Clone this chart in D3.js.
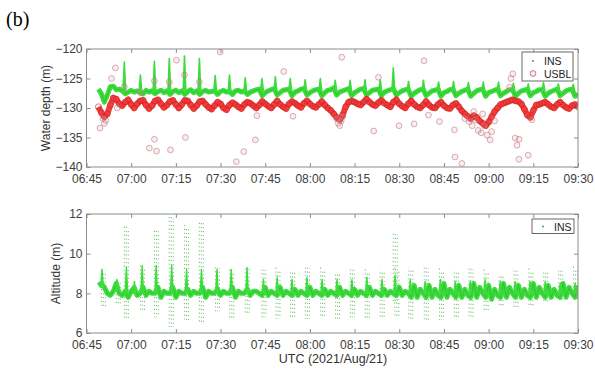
<!DOCTYPE html>
<html>
<head>
<meta charset="utf-8">
<script src="https://cdn.jsdelivr.net/npm/d3@7"></script>
<style>
  body { margin: 0; background: #fff; }
  svg { display: block; font-family: "Liberation Sans", Arial, sans-serif; }
</style>
</head>
<body>
<svg id="chart" width="595" height="369"></svg>
<script>
// time is in minutes after 06:45 UTC, base series sampled once a minute from baseStart
const baseStart = 4;

const insDepthBase = [
  -126.8, -127.6, -129.0, -127.8, -126.4,
  -126.3, -126.9, -126.8, -127.1, -127.6,
  -127.3, -127.0, -127.3, -127.1, -127.4,
  -127.6, -127.0, -127.3, -127.1, -127.6,
  -127.2, -127.0, -127.4, -127.1, -127.7,
  -127.2, -127.0, -127.4, -127.1, -127.7,
  -127.2, -126.9, -127.4, -127.1, -127.7,
  -127.2, -127.0, -127.3, -127.2, -127.1,
  -127.7, -127.2, -127.0, -127.3, -127.2,
  -127.7, -127.1, -127.0, -127.3, -127.1,
  -127.7, -127.3, -127.1, -126.9, -126.8,
  -127.9, -127.4, -127.1, -126.9, -126.7,
  -127.8, -127.4, -127.0, -126.9, -126.8,
  -127.9, -127.3, -127.1, -126.8, -126.7,
  -127.8, -127.4, -127.1, -126.9, -126.8,
  -127.9, -127.4, -127.0, -126.9, -126.6,
  -127.8, -127.3, -127.1, -126.9, -126.7,
  -127.9, -127.4, -127.1, -126.8, -126.7,
  -127.8, -127.4, -127.0, -126.9, -126.8,
  -127.9, -127.3, -127.1, -126.9, -126.7,
  -127.8, -127.4, -127.1, -126.9, -126.8,
  -128.0, -127.5, -127.2, -126.9, -126.8,
  -127.9, -127.5, -127.1, -127.0, -126.8,
  -128.0, -127.4, -127.2, -126.9, -126.8,
  -127.9, -127.5, -127.2, -127.0, -126.8,
  -128.0, -127.5, -127.1, -126.9, -126.8,
  -128.0, -127.4, -127.2, -127.0, -126.8,
  -127.9, -127.5, -127.2, -126.9, -126.9,
  -128.0, -127.5, -127.1, -127.0, -126.8,
  -127.9, -127.4, -127.2, -126.9, -126.9,
  -128.0, -127.5, -127.2, -127.0, -126.8,
  -127.9, -127.5, -127.1, -126.9, -126.8,
  -128.0, -127.6
];

// [minute, from, peak]
const insDepthSpikes = [
  [12.7, -127.2, -122.2], [18.1, -127.2, -124.4], [22.8, -127.2, -122.1], [27.8, -127.2, -121.6],
  [32.9, -127.2, -121.2], [37.9, -127.2, -121.6], [43.2, -127.2, -124.5], [48.0, -127.2, -124.4],
  [53.3, -127.2, -124.9], [58.9, -127.0, -125.0], [63.4, -127.0, -124.7], [68.4, -127.0, -125.0],
  [73.4, -127.0, -125.2], [78.5, -127.0, -125.0], [83.5, -127.0, -125.3], [88.5, -127.0, -125.3],
  [93.5, -127.0, -125.2], [98.6, -127.0, -125.2], [103.0, -127.0, -123.2], [108.1, -127.0, -125.5],
  [113.1, -127.0, -125.3], [118.2, -127.0, -125.6], [123.2, -127.0, -125.5], [128.2, -127.0, -125.7],
  [133.2, -127.0, -125.6], [138.3, -127.0, -125.6], [143.3, -127.0, -125.8], [148.3, -127.0, -125.9],
  [153.4, -127.0, -125.7], [158.4, -127.0, -125.9], [163.4, -127.0, -126.0]
];

const usblBase = [
  -129.8, -130.8, -131.5, -131.0, -129.5, -128.3, -128.5, -129.3, -129.6, -129.0,
  -128.6, -129.4, -130.0, -129.3, -128.8,
  -128.7, -129.5, -130.1, -129.6, -128.8,
  -128.6, -129.3, -129.9, -129.5, -128.9,
  -128.7, -129.4, -130.0, -129.4, -128.7,
  -128.8, -129.5, -130.1, -129.6, -128.9,
  -128.8, -129.4, -129.9, -130.2, -129.6,
  -129.0, -129.3, -130.0, -130.3, -129.5,
  -129.1, -129.4, -129.8, -130.1, -129.4,
  -129.0, -129.2, -129.6, -130.0, -129.5,
  -128.9, -129.3, -129.7, -130.0, -129.4,
  -128.8, -129.4, -129.8, -130.1, -129.3,
  -128.9, -129.2, -129.6, -129.9, -129.2,
  -128.8, -129.3, -129.7, -129.9, -129.4,
  -128.9, -129.5, -130.0, -130.4, -131.0,
  -131.6, -132.0, -131.2, -129.8, -129.0,
  -128.8, -129.0, -129.3, -129.5, -129.0,
  -128.5, -129.0, -129.4, -129.6, -129.1,
  -128.7, -129.2, -129.5, -129.8, -129.0,
  -128.6, -129.3, -129.7, -130.0, -129.3,
  -128.8, -129.4, -129.8, -130.0, -129.5,
  -128.9, -129.5, -129.9, -130.0, -129.4,
  -129.0, -129.6, -130.0, -130.1, -129.5,
  -129.2, -129.8, -130.5, -131.0, -131.4,
  -131.8, -131.3, -131.6, -132.2, -132.6,
  -133.0, -132.4, -131.5, -130.6, -130.0,
  -129.4, -129.2, -129.0, -128.8, -128.6,
  -128.8, -128.9, -129.3, -130.2, -131.2,
  -131.6, -130.4, -129.5, -129.4, -129.2,
  -129.0, -129.4, -129.8, -130.0, -129.4,
  -129.0, -129.5, -129.9, -130.1, -129.6,
  -129.4, -129.8
];

// scattered USBL fixes [minute, depth]
const usblScatter = [
  [4.5, -133.4], [6.0, -132.6], [5.5, -131.8], [6.5, -132.1], [8.4, -125.0], [9.7, -123.2], [10.3, -130.0],
  [12.7, -126.4], [22.8, -125.4], [27.8, -125.6], [32.9, -124.4], [37.9, -125.6], [18.1, -127.4],
  [30.2, -121.9], [44.9, -120.5], [22.8, -135.3], [21.1, -136.8], [23.5, -137.3], [28.2, -137.1],
  [33.2, -135.0], [52.8, -137.4], [50.3, -139.1], [56.7, -135.4], [57.2, -131.3], [66.2, -123.8],
  [69.3, -131.4], [85.7, -121.4], [96.4, -133.9], [98.0, -124.8], [104.9, -133.0], [110.0, -132.7],
  [113.3, -122.0], [114.8, -131.2], [118.5, -132.3], [123.5, -133.7], [123.7, -138.3], [126.0, -139.4],
  [142.0, -126.5], [142.5, -125.0], [143.1, -124.2], [143.9, -135.1], [145.2, -135.3], [144.5, -136.3],
  [148.3, -138.0], [145.2, -138.7],
  [84.0, -131.8], [84.5, -132.6], [85.0, -133.0], [85.5, -132.2], [86.0, -131.5],
  [127.0, -131.8], [128.5, -132.3], [129.5, -133.0], [130.0, -130.6], [130.5, -132.0], [131.5, -133.8],
  [132.5, -134.2], [133.0, -131.0], [133.5, -133.0], [134.5, -134.6], [135.5, -135.4], [136.0, -134.0],
  [137.0, -132.2], [149.5, -132.0]
];

const altBase = [
  8.4, 8.5, 8.3, 8.0, 7.9,
  8.1, 8.5, 8.0, 7.9, 8.1,
  7.8, 8.1, 8.3, 7.9, 8.0,
  8.3, 7.9, 8.1, 8.0, 8.0,
  8.3, 7.8, 8.1, 8.0, 8.0,
  8.3, 7.8, 8.1, 8.0, 8.0,
  8.2, 7.9, 8.1, 8.0, 8.0,
  8.3, 7.8, 8.1, 8.0, 8.0,
  8.2, 7.9, 8.1, 8.0, 8.0,
  8.3, 7.8, 8.1, 8.0, 8.0,
  8.2, 7.9, 8.1, 8.1, 8.0,
  7.9, 8.3, 7.9, 8.1, 8.0,
  7.9, 8.3, 7.9, 8.1, 8.0,
  7.9, 8.2, 7.9, 8.1, 8.0,
  7.9, 8.3, 7.9, 8.1, 8.0,
  7.9, 8.2, 7.9, 8.1, 8.0,
  7.9, 8.3, 7.9, 8.1, 8.0,
  7.9, 8.2, 7.9, 8.1, 8.0,
  7.9, 8.3, 7.9, 8.1, 8.0,
  7.9, 8.2, 7.9, 8.1, 8.0,
  7.9, 8.3, 7.9, 8.1, 8.0,
  7.8, 8.4, 7.8, 8.2, 8.0,
  7.8, 8.4, 7.8, 8.2, 7.9,
  7.8, 8.5, 7.8, 8.2, 8.0,
  7.8, 8.4, 7.8, 8.2, 7.9,
  7.8, 8.5, 7.8, 8.3, 8.0,
  7.8, 8.4, 7.7, 8.2, 7.9,
  7.8, 8.5, 7.8, 8.3, 8.0,
  7.8, 8.4, 7.8, 8.2, 7.9,
  7.8, 8.5, 7.8, 8.3, 8.0,
  7.8, 8.4, 7.8, 8.2, 7.9,
  7.8, 8.5, 7.8, 8.3, 8.0,
  7.8, 8.4
];

// [minute, from, peak]
const altSpikes = [
  [5.2, 8.3, 9.2], [10.2, 8.2, 8.7], [13.4, 8.0, 9.3], [16.1, 8.0, 8.6], [18.7, 8.0, 9.4],
  [23.4, 8.0, 9.4], [28.6, 8.0, 9.4], [33.6, 8.0, 9.2], [38.6, 8.0, 9.2], [43.8, 8.0, 9.2],
  [48.6, 8.0, 9.2], [53.9, 8.0, 9.3], [59.4, 8.0, 8.7], [64.0, 8.0, 8.8], [69.0, 8.0, 8.7],
  [74.0, 8.0, 8.8], [79.1, 8.0, 8.7], [84.1, 8.0, 8.7], [89.1, 8.0, 8.7], [94.1, 8.0, 8.8],
  [99.2, 8.0, 8.7], [103.6, 8.0, 8.9], [108.7, 8.0, 8.7], [113.7, 8.0, 8.6], [118.8, 8.0, 8.7],
  [123.8, 8.0, 8.6], [128.8, 8.0, 8.6], [133.8, 8.0, 8.7], [138.9, 8.0, 8.6], [143.9, 8.0, 8.6],
  [148.9, 8.0, 8.6], [154.0, 8.0, 8.6], [159.0, 8.0, 8.5], [164.0, 8.0, 8.5]
];

// sparse altitude readings during fast motion [minute, top, bottom]
const altStreaks = [
  [5.0, 9.2, 7.3], [10.0, 8.7, 7.4], [12.7, 11.45, 6.65], [18.1, 9.4, 7.15], [22.8, 11.3, 6.8],
  [27.8, 11.95, 6.3], [32.9, 11.45, 6.65], [37.9, 11.7, 6.5], [43.3, 9.4, 7.1], [48.1, 9.2, 6.7],
  [53.3, 9.4, 6.9], [58.9, 9.3, 6.8], [63.6, 9.3, 6.7], [68.5, 9.2, 6.8], [73.5, 9.4, 6.7],
  [78.6, 9.3, 6.8], [83.6, 9.1, 6.6], [88.6, 9.3, 6.8], [93.6, 9.2, 6.7], [98.6, 9.2, 6.8],
  [103.0, 11.1, 7.6], [103.5, 9.3, 6.8], [108.2, 9.3, 6.7], [113.4, 9.4, 6.65], [118.5, 9.25, 6.65],
  [123.5, 9.2, 6.8], [128.4, 9.35, 6.8], [133.5, 9.2, 7.15], [138.5, 9.0, 7.3], [143.5, 9.25, 7.3],
  [148.5, 9.25, 7.4], [153.5, 9.2, 7.6], [158.5, 9.25, 7.65], [163.5, 9.35, 7.6]
];

const depthTicks = [-140, -135, -130, -125, -120];
const altTicks = [6, 8, 10, 12];

const svg = d3.select('#chart');
const t0 = Date.UTC(2021, 7, 21, 6, 45);
const toDate = (m) => new Date(t0 + m * 60000);

const left = 86.5, right = 578;
const x = d3.scaleUtc().domain([toDate(0), toDate(165)]).range([left, right]);
const yDepth = d3.scaleLinear().domain([-140, -120]).range([167, 49]);
const yAlt = d3.scaleLinear().domain([6, 12]).range([333, 214]);

const GREEN = '#3ddc3d';
const GREEN_DARK = '#1fa51f';
const RED = '#ee2a2a';

const withTime = (arr) => arr.map((v, i) => [baseStart + i, v]);

svg.append('text')
  .attr('x', 6).attr('y', 26)
  .style('font-family', '"Liberation Serif", "DejaVu Serif", serif')
  .style('font-size', '20px')
  .text('(b)');

const drawFrame = (y, y0, y1, ticks, title, titleX) => {
  const g = svg.append('g');

  const styleAxis = (sel) => {
    sel.select('.domain').remove();
    sel.selectAll('.tick line').attr('stroke', '#8c8c8c');
    sel.selectAll('.tick text').attr('fill', '#404040').style('font-size', '12px');
  };

  g.append('g')
    .attr('transform', `translate(0,${y1})`)
    .call(d3.axisBottom(x).ticks(d3.utcMinute.every(15)).tickFormat(d3.utcFormat('%H:%M'))
      .tickSizeInner(-4).tickSizeOuter(0).tickPadding(7))
    .call(styleAxis);

  g.append('g')
    .attr('transform', `translate(0,${y0})`)
    .call(d3.axisTop(x).ticks(d3.utcMinute.every(15)).tickFormat('')
      .tickSizeInner(-4).tickSizeOuter(0))
    .call(styleAxis);

  g.append('g')
    .attr('transform', `translate(${left},0)`)
    .call(d3.axisLeft(y).tickValues(ticks).tickFormat(d3.format('d'))
      .tickSizeInner(-4).tickSizeOuter(0).tickPadding(4))
    .call(styleAxis);

  g.append('g')
    .attr('transform', `translate(${right},0)`)
    .call(d3.axisRight(y).tickValues(ticks).tickFormat('').tickSizeInner(-4).tickSizeOuter(0))
    .call(styleAxis);

  g.append('rect')
    .attr('x', left).attr('y', y0)
    .attr('width', right - left).attr('height', y1 - y0)
    .attr('fill', 'none').attr('stroke', '#8c8c8c');

  g.append('text')
    .attr('transform', `translate(${titleX},${(y0 + y1) / 2}) rotate(-90)`)
    .attr('text-anchor', 'middle')
    .attr('fill', '#333')
    .style('font-size', '12px')
    .text(title);
};

const clip = (id, y0, y1) => {
  svg.append('clipPath').attr('id', id)
    .append('rect').attr('x', left).attr('y', y0).attr('width', right - left).attr('height', y1 - y0);
};
clip('clipTop', 49, 167);
clip('clipBot', 214, 333);

// ---------- water depth ----------
const depthG = svg.append('g').attr('clip-path', 'url(#clipTop)');

const depthLine = d3.line().x((d) => x(toDate(d[0]))).y((d) => yDepth(d[1]));
const spikePath = (yS) => (d) =>
  `M${x(toDate(d[0] - 0.45))},${yS(d[1])}L${x(toDate(d[0]))},${yS(d[2])}L${x(toDate(d[0] + 0.45))},${yS(d[1])}Z`;

depthG.append('path')
  .datum(withTime(insDepthBase))
  .attr('d', depthLine)
  .attr('fill', 'none').attr('stroke', GREEN).attr('stroke-width', 5).attr('stroke-linejoin', 'round');

depthG.append('path')
  .datum(withTime(insDepthBase))
  .attr('d', depthLine)
  .attr('fill', 'none').attr('stroke', GREEN_DARK).attr('stroke-width', 1).attr('opacity', 0.45);

depthG.selectAll('.dspike')
  .data(insDepthSpikes)
  .enter().append('path')
  .attr('d', spikePath(yDepth))
  .attr('fill', GREEN).attr('stroke', GREEN).attr('stroke-width', 1.6).attr('stroke-linejoin', 'round');

depthG.append('path')
  .datum(withTime(usblBase))
  .attr('d', depthLine)
  .attr('fill', 'none').attr('stroke', RED).attr('stroke-width', 6).attr('stroke-linejoin', 'round').attr('opacity', 0.9);

depthG.selectAll('.ub')
  .data(withTime(usblBase))
  .enter().append('circle')
  .attr('cx', (d) => x(toDate(d[0])))
  .attr('cy', (d) => yDepth(d[1]))
  .attr('r', 3)
  .attr('fill', 'none').attr('stroke', '#d41e1e').attr('stroke-width', 0.8).attr('opacity', 0.75);

depthG.selectAll('.us')
  .data(usblScatter)
  .enter().append('circle')
  .attr('cx', (d) => x(toDate(d[0])))
  .attr('cy', (d) => yDepth(d[1]))
  .attr('r', 2.9)
  .attr('fill', 'rgba(240,140,150,0.2)').attr('stroke', '#bf7f88').attr('stroke-width', 0.8).attr('opacity', 0.8);

drawFrame(yDepth, 49, 167, depthTicks, 'Water depth (m)', 50);

// legend (top)
const lg1 = svg.append('g');
lg1.append('rect').attr('x', 522).attr('y', 52).attr('width', 51).attr('height', 29)
  .attr('fill', '#fff').attr('stroke', '#444').attr('stroke-width', 0.8);
lg1.append('circle').attr('cx', 533).attr('cy', 61).attr('r', 0.9).attr('fill', GREEN_DARK);
lg1.append('circle').attr('cx', 533).attr('cy', 73.5).attr('r', 2.9).attr('fill', 'rgba(240,140,150,0.2)').attr('stroke', '#bf7f88');
lg1.append('text').attr('x', 544).attr('y', 65).style('font-size', '10.5px').attr('fill', '#222').text('INS');
lg1.append('text').attr('x', 544).attr('y', 77.5).style('font-size', '10.5px').attr('fill', '#222').text('USBL');

// ---------- altitude ----------
const altG = svg.append('g').attr('clip-path', 'url(#clipBot)');
const altLine = d3.line().x((d) => x(toDate(d[0]))).y((d) => yAlt(d[1]));

altStreaks.forEach((d, i) => {
  [0, 2, 4].forEach((off, k) => {
    altG.append('line')
      .attr('x1', x(toDate(d[0])) + off).attr('x2', x(toDate(d[0])) + off)
      .attr('y1', yAlt(d[1]) + k * 1.5).attr('y2', yAlt(d[2]))
      .attr('stroke', '#72c472').attr('stroke-width', 1.1)
      .attr('stroke-dasharray', '1.1 2.8').attr('stroke-dashoffset', k * 1.3 + (i % 3));
  });
});

altG.append('path')
  .datum(withTime(altBase))
  .attr('d', altLine)
  .attr('fill', 'none').attr('stroke', GREEN).attr('stroke-width', 5).attr('stroke-linejoin', 'round');

altG.append('path')
  .datum(withTime(altBase))
  .attr('d', altLine)
  .attr('fill', 'none').attr('stroke', GREEN_DARK).attr('stroke-width', 1).attr('opacity', 0.45);

altG.selectAll('.aspike')
  .data(altSpikes)
  .enter().append('path')
  .attr('d', spikePath(yAlt))
  .attr('fill', GREEN).attr('stroke', GREEN).attr('stroke-width', 1.4).attr('stroke-linejoin', 'round');

drawFrame(yAlt, 214, 333, altTicks, 'Altitude (m)', 60);

// legend (bottom)
const lg2 = svg.append('g');
lg2.append('rect').attr('x', 532).attr('y', 219).attr('width', 42).attr('height', 14.5)
  .attr('fill', '#fff').attr('stroke', '#444').attr('stroke-width', 0.8);
lg2.append('circle').attr('cx', 543).attr('cy', 226.5).attr('r', 0.9).attr('fill', GREEN_DARK);
lg2.append('text').attr('x', 554).attr('y', 230.5).style('font-size', '10.5px').attr('fill', '#222').text('INS');

svg.append('text')
  .attr('x', 333).attr('y', 363)
  .attr('text-anchor', 'middle')
  .attr('fill', '#333')
  .style('font-size', '12.5px')
  .text('UTC (2021/Aug/21)');
</script>
</body>
</html>
